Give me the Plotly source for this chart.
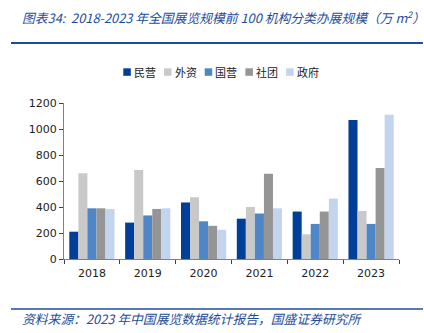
import plotly.graph_objects as go

years = ["2018", "2019", "2020", "2021", "2022", "2023"]
series_names = ["民营", "外资", "国营", "社团", "政府"]
minying = [210, 280, 435, 310, 365, 1070]
waizi = [660, 685, 475, 400, 190, 370]
guoying = [390, 335, 290, 350, 270, 270]
shetuan = [390, 385, 255, 655, 365, 700]
zhengfu = [385, 390, 225, 390, 465, 1110]
colors = ["#003E98", "#C9C9C9", "#4E86C8", "#959595", "#C3D5EE"]
values = [minying, waizi, guoying, shetuan, zhengfu]

W, H = 424, 333
L, R, T, B = 64, 399, 102.7, 259.0

def px(x):
    return (x - L) / (R - L)

def py(y):
    return (B - y) / (B - T)

fig = go.Figure()
for name, vals, c in zip(series_names, values, colors):
    fig.add_trace(go.Bar(name=name, x=years, y=vals, marker=dict(color=c, line=dict(width=0))))

fig.update_layout(
    width=W, height=H,
    margin=dict(l=L, r=W - R, t=T, b=H - B, pad=0),
    paper_bgcolor="white", plot_bgcolor="white",
    barmode="group", bargap=0.19, bargroupgap=0,
    font=dict(family="DejaVu Sans, Noto Sans CJK SC", size=11, color="#222"),
    showlegend=False,
)
fig.update_xaxes(showline=True, linecolor="#808080", linewidth=1, ticks="outside",
                 tickson="boundaries", ticklen=4, tickcolor="#404040", ticklabelstandoff=4,
                 showgrid=False, tickfont=dict(size=11, family="DejaVu Sans", color="#222"))
fig.update_yaxes(range=[0, 1200], dtick=200, showline=True, linecolor="#808080", linewidth=1,
                 ticks="outside", ticklen=4, tickcolor="#404040", showgrid=False, zeroline=False,
                 tickfont=dict(size=11, family="DejaVu Sans", color="#222"))

# legend (manual, compact like the reference)
leg_x0, leg_step, leg_y, sq = 123.3, 40.7, 71.7, 7.5
for i, (name, c) in enumerate(zip(series_names, colors)):
    x0 = leg_x0 + i * leg_step
    fig.add_shape(type="rect", xref="paper", yref="paper",
                  x0=px(x0), x1=px(x0 + sq), y0=py(leg_y - sq / 2), y1=py(leg_y + sq / 2),
                  fillcolor=c, line=dict(width=0))
    fig.add_annotation(text=name, xref="paper", yref="paper", x=px(x0 + sq + 1), y=py(leg_y),
                       xanchor="left", yanchor="middle", showarrow=False,
                       font=dict(size=11, family="Noto Sans CJK SC", color="#222"))

blue = "#1E4C9C"
fig.add_annotation(text="<i>图表34:  2018-2023 年全国展览规模前 100 机构分类办展规模（万 m<sup>2</sup>）</i>",
                   xref="paper", yref="paper", x=px(20), y=py(17), xanchor="left", yanchor="middle",
                   showarrow=False, font=dict(size=12.8, color=blue, family="Noto Sans CJK SC"))
fig.add_annotation(text="<i>资料来源：2023 年中国展览数据统计报告，国盛证券研究所</i>",
                   xref="paper", yref="paper", x=px(20), y=py(319), xanchor="left", yanchor="middle",
                   showarrow=False, font=dict(size=12.8, color=blue, family="Noto Sans CJK SC"))
fig.add_shape(type="line", xref="paper", yref="paper", x0=px(11), x1=px(423), y0=py(42.5), y1=py(42.5),
              line=dict(color=blue, width=2))
fig.add_shape(type="line", xref="paper", yref="paper", x0=px(11), x1=px(423), y0=py(309), y1=py(309),
              line=dict(color=blue, width=1.5))

fig.write_html("out.html")
